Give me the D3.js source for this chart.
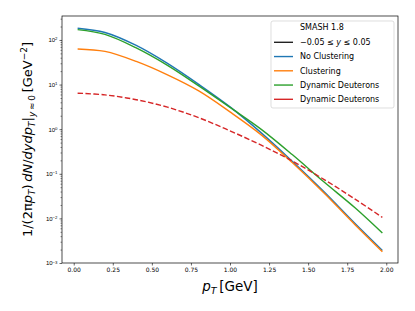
<!DOCTYPE html>
<html>
<head>
<meta charset="utf-8">
<script src="https://cdn.jsdelivr.net/npm/d3@7"></script>
<style>
  html, body { margin: 0; padding: 0; background: #fff; }
  svg { display: block; font-family: "DejaVu Sans", sans-serif; }
</style>
</head>
<body>
<div id="chart"></div>
<script>
// transverse momentum bins (GeV)
const pT = [0.025, 0.2, 0.4, 0.6, 0.8, 1.0, 1.2, 1.4, 1.6, 1.8, 1.975];
// spectra, 1/(2 pi pT) dN/dy dpT  [GeV^-2]
const noClustering = [183, 147, 75.3, 29.8, 10.1, 3.16, 0.827, 0.188, 0.0399, 0.00766, 0.00191];
const clustering = [62.9, 55.3, 33.0, 16.5, 7.21, 2.44, 0.746, 0.176, 0.0375, 0.00721, 0.00179];
const dynamicDeuterons = [170, 133, 66.2, 26.9, 9.33, 3.08, 0.991, 0.266, 0.0661, 0.0173, 0.0047];
const dynamicDeuteronsDashed = [6.41, 5.87, 4.58, 3.11, 1.81, 0.917, 0.438, 0.192, 0.0752, 0.0271, 0.0105];

const xTicks = [0, 0.25, 0.5, 0.75, 1.0, 1.25, 1.5, 1.75, 2.0];
const yTicks = [-3, -2, -1, 0, 1, 2];

const series = [
  { name: "No Clustering", values: noClustering, color: "#1f77b4", dash: null },
  { name: "Clustering", values: clustering, color: "#ff7f0e", dash: null },
  { name: "Dynamic Deuterons", values: dynamicDeuterons, color: "#2ca02c", dash: null },
  { name: "Dynamic Deuterons", values: dynamicDeuteronsDashed, color: "#d62728", dash: "5.5,2.4" }
];

const width = 415, height = 311;
const margin = { left: 62, right: 17, top: 16, bottom: 48 };
const iw = width - margin.left - margin.right;
const ih = height - margin.top - margin.bottom;

const svg = d3.select("#chart").append("svg")
  .attr("width", width).attr("height", height);

const g = svg.append("g").attr("transform", `translate(${margin.left},${margin.top})`);

const x = d3.scaleLinear().domain([-0.075, 2.075]).range([0, iw]);
const y = d3.scaleLog().domain([1e-3, Math.pow(10, 2.537)]).range([ih, 0]);

// x axis
const xAxis = g.append("g").attr("transform", `translate(0,${ih})`)
  .call(d3.axisBottom(x).tickValues(xTicks).tickSize(2.5).tickPadding(2.5).tickFormat(d3.format(".2f")));
xAxis.select(".domain").remove();
xAxis.selectAll("line").attr("stroke", "#000").attr("stroke-width", 0.6);
xAxis.selectAll("text").attr("font-size", 6).attr("fill", "#000")
  .attr("font-family", "DejaVu Sans");

// y axis, major
const yAxis = g.append("g")
  .call(d3.axisLeft(y).tickValues(yTicks.map(e => Math.pow(10, e))).tickSize(2.5).tickPadding(2.5).tickFormat(""));
yAxis.select(".domain").remove();
yAxis.selectAll("line").attr("stroke", "#000").attr("stroke-width", 0.6);
yAxis.selectAll(".tick").each(function (d) {
  const e = Math.round(Math.log10(d));
  const t = d3.select(this).append("text")
    .attr("x", -4.5).attr("dy", "0.32em")
    .attr("text-anchor", "end").attr("fill", "#000")
    .attr("font-size", 6);
  t.append("tspan").text("10");
  t.append("tspan").attr("dy", "-0.45em").attr("font-size", 4.3)
    .text(e < 0 ? "\u2212" + Math.abs(e) : String(e));
});

// y axis, minor
const minor = [];
for (let e = -3; e <= 2; e++) {
  for (let m = 2; m <= 9; m++) {
    const v = m * Math.pow(10, e);
    if (v <= y.domain()[1]) minor.push(v);
  }
}
const yMinor = g.append("g")
  .call(d3.axisLeft(y).tickValues(minor).tickSize(1.5).tickFormat(""));
yMinor.select(".domain").remove();
yMinor.selectAll("line").attr("stroke", "#000").attr("stroke-width", 0.45);

// lines
const line = d3.line()
  .x((d, i) => x(pT[i]))
  .y(d => y(d))
  .curve(d3.curveCatmullRom.alpha(0.5));

g.append("g").selectAll("path")
  .data(series)
  .join("path")
  .attr("d", d => line(d.values))
  .attr("fill", "none")
  .attr("stroke", d => d.color)
  .attr("stroke-width", 1.4)
  .attr("stroke-dasharray", d => d.dash);

// frame
g.append("rect")
  .attr("width", iw).attr("height", ih)
  .attr("fill", "none").attr("stroke", "#000").attr("stroke-width", 0.7);

// legend
const legend = svg.append("g").attr("transform", "translate(271,21)");
legend.append("rect")
  .attr("width", 123).attr("height", 87).attr("rx", 2)
  .attr("fill", "#fff").attr("fill-opacity", 0.8)
  .attr("stroke", "#d0d0d0").attr("stroke-width", 0.7);

legend.append("text")
  .attr("x", 29).attr("y", 6.5).attr("dy", "0.35em")
  .attr("font-size", 8).text("SMASH 1.8");

const rows = [{ color: "#222", label: null }].concat(series.map(s => ({ color: s.color, label: s.name })));
const item = legend.selectAll(".item")
  .data(rows)
  .join("g")
  .attr("class", "item")
  .attr("transform", (d, i) => `translate(0,${21.3 + i * 14.25})`);

item.append("line")
  .attr("x1", 3).attr("x2", 22)
  .attr("stroke", d => d.color).attr("stroke-width", 1.4);

item.each(function (d) {
  const t = d3.select(this).append("text")
    .attr("x", 29).attr("dy", "0.35em").attr("font-size", 8);
  if (d.label) {
    t.text(d.label);
  } else {
    t.append("tspan").text("\u22120.05 \u2264 ");
    t.append("tspan").attr("font-style", "italic").text("y");
    t.append("tspan").text(" \u2264 0.05");
  }
});

// axis labels
const xl = svg.append("text")
  .attr("x", margin.left + iw / 2).attr("y", 291)
  .attr("text-anchor", "middle").attr("font-size", 13.5);
xl.append("tspan").attr("font-style", "italic").text("p");
xl.append("tspan").attr("font-style", "italic").attr("font-size", 9.5).attr("dy", 3).text("T");
xl.append("tspan").attr("dy", -3).text("\u2009[GeV]");

const yl = svg.append("text")
  .attr("transform", `translate(32,${margin.top + ih / 2}) rotate(-90)`)
  .attr("text-anchor", "middle").attr("font-size", 13);
yl.append("tspan").text("1/(2\u03C0");
yl.append("tspan").attr("font-style", "italic").text("p");
yl.append("tspan").attr("font-style", "italic").attr("font-size", 9).attr("dy", 3).text("T");
yl.append("tspan").attr("dy", -3).text(")\u2009");
yl.append("tspan").attr("font-style", "italic").text("dN");
yl.append("tspan").text("/");
yl.append("tspan").attr("font-style", "italic").text("dydp");
yl.append("tspan").attr("font-style", "italic").attr("font-size", 9).attr("dy", 3).text("T");
yl.append("tspan").attr("dy", -3).text("|");
yl.append("tspan").attr("font-style", "italic").attr("font-size", 9).attr("dy", 3).text("y");
yl.append("tspan").attr("font-size", 9).text("\u2009\u2248\u20090");
yl.append("tspan").attr("dy", -3).text("\u2009[GeV");
yl.append("tspan").attr("font-size", 9).attr("dy", -5).text("\u22122");
yl.append("tspan").attr("dy", 5).text("]");
</script>
</body>
</html>
